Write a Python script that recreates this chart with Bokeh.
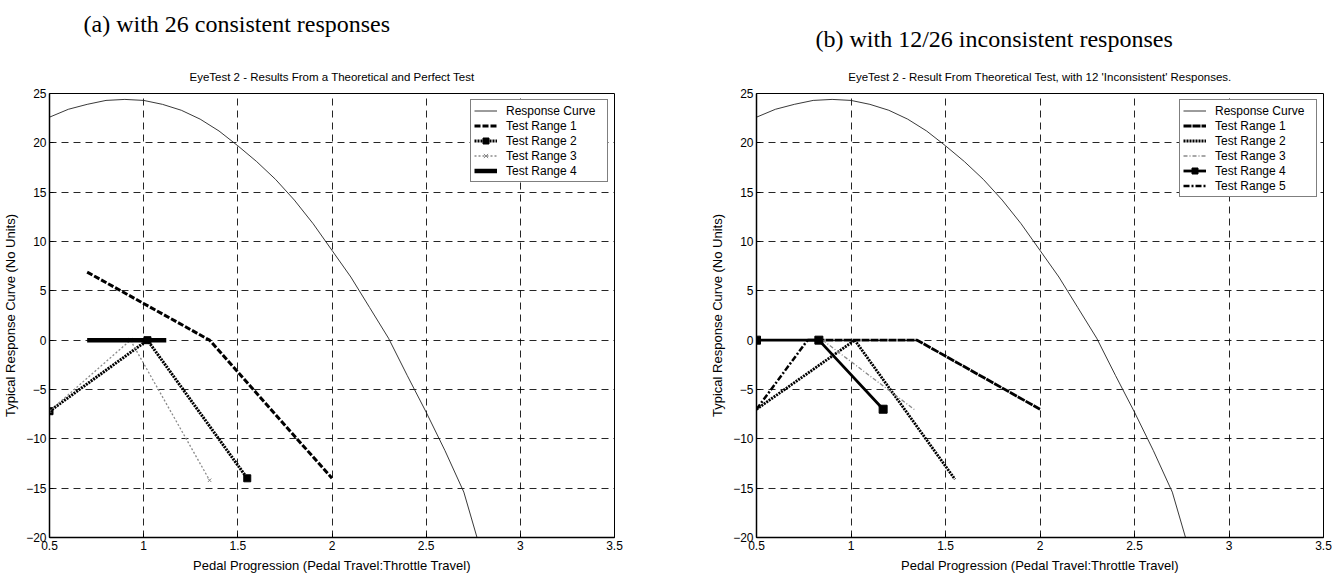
from bokeh.plotting import figure
from bokeh.layouts import row
from bokeh.models import Range1d, FixedTicker, Legend, LegendItem, Title
from bokeh.embed import file_html
from bokeh.resources import INLINE

# ---------------- data ----------------
resp_x = [0.5, 0.6, 0.7, 0.8, 0.9, 1.0, 1.1, 1.2, 1.3, 1.4, 1.5, 1.6, 1.7, 1.8,
          1.9, 2.0, 2.1, 2.2, 2.3, 2.4, 2.5, 2.6, 2.7, 2.77]
resp_y = [22.6, 23.4, 23.9, 24.3, 24.4, 24.3, 23.9, 23.3, 22.4, 21.2, 19.7, 18.1,
          16.3, 14.2, 11.8, 9.1, 6.4, 3.3, 0.2, -3.6, -7.3, -11.2, -15.4, -20.0]

# panel (a)
a1_x = [0.7, 1.35, 2.0]
a1_y = [6.9, 0.0, -14.0]
a2_x = [0.5, 1.02, 1.55]
a2_y = [-7.2, 0.0, -14.0]
a3_x = [0.5, 0.93, 1.35]
a3_y = [-7.2, 0.0, -14.2]
a4_x = [0.7, 1.12]
a4_y = [0.0, 0.0]

# panel (b)
b1_x = [0.77, 1.35, 2.0]
b1_y = [0.0, 0.0, -7.0]
b2_x = [0.5, 1.02, 1.55]
b2_y = [-7.0, 0.0, -14.1]
b3_x = [0.85, 1.34]
b3_y = [0.0, -7.1]
b4_x = [0.5, 0.83, 1.17]
b4_y = [0.0, 0.0, -7.0]
b5_x = [0.5, 0.77]
b5_y = [-7.0, 0.0]

x_ticks = [0.5, 1.0, 1.5, 2.0, 2.5, 3.0, 3.5]
x_tick_labels = ["0.5", "1", "1.5", "2", "2.5", "3", "3.5"]
y_ticks = [-20, -15, -10, -5, 0, 5, 10, 15, 20, 25]

title_a = "(a) with 26 consistent responses"
title_b = "(b) with 12/26 inconsistent responses"
sub_a = "EyeTest 2 - Results From a Theoretical and Perfect Test"
sub_b = "EyeTest 2 - Result From Theoretical Test, with 12 'Inconsistent' Responses."
xlabel = "Pedal Progression (Pedal Travel:Throttle Travel)"
ylabel = "Typical Response Curve (No Units)"

SANS = "Liberation Sans"
SERIF = "Liberation Serif"


def base_fig(bl, br, sub, big, big_offset, big_standoff, spacer):
    p = figure(width=672, height=577, output_backend="svg", toolbar_location=None,
               x_range=Range1d(0.5, 3.5), y_range=Range1d(-20, 25),
               min_border_left=bl, min_border_right=br,
               min_border_top=93, min_border_bottom=40,
               title=Title(text=big, align="left", offset=big_offset, text_font=SERIF,
                           text_font_size="24px", text_font_style="normal",
                           text_color="black", standoff=big_standoff))
    # closest to the frame: the chart's own title
    p.add_layout(Title(text=sub, align="center", text_font=SANS,
                       text_font_size="11.5px", text_font_style="normal",
                       text_color="black", standoff=21), "above")
    if spacer:
        p.add_layout(Title(text=" ", text_font_size="1px", standoff=spacer), "above")
    p.background_fill_color = "white"
    p.border_fill_color = "white"
    p.outline_line_color = "black"
    p.outline_line_width = 1
    p.xaxis.ticker = FixedTicker(ticks=x_ticks)
    p.xaxis.major_label_overrides = {t: l for t, l in zip(x_ticks, x_tick_labels)}
    p.yaxis.ticker = FixedTicker(ticks=y_ticks)
    for ax in (p.xaxis, p.yaxis):
        ax.axis_line_color = "black"
        ax.axis_line_width = 1.5
        ax.major_tick_in = 4
        ax.major_tick_out = 0
        ax.minor_tick_line_color = None
        ax.major_label_text_font = SANS
        ax.major_label_text_font_size = "12px"
        ax.major_label_text_color = "black"
        ax.major_label_standoff = 3
        ax.axis_label_text_font = SANS
        ax.axis_label_text_font_size = "13px"
        ax.axis_label_text_font_style = "normal"
        ax.axis_label_text_color = "black"
        ax.axis_label_standoff = 5
    p.xaxis.axis_label = xlabel
    p.yaxis.axis_label = ylabel
    for g in (p.xgrid, p.ygrid):
        g.grid_line_color = "black"
        g.grid_line_dash = "7 5"
        g.grid_line_width = 1
        g.grid_line_alpha = 0.85
    return p


def legend_box(p, items):
    lg = Legend(items=items, location="top_right", margin=6, padding=3, spacing=0,
                label_text_font=SANS, label_text_font_size="12px",
                label_text_color="black", label_height=15, glyph_height=15,
                glyph_width=23, label_standoff=9, label_width=98,
                border_line_color="black", border_line_width=1,
                background_fill_color="white", background_fill_alpha=1)
    p.add_layout(lg, "center")


# ---------------- panel (a) ----------------
pa = base_fig(48, 58, sub_a, title_a, 34, 16, 11)
r0 = pa.line(resp_x, resp_y, line_color="#222222", line_width=0.9)
r1 = pa.line(a1_x, a1_y, line_color="black", line_width=3, line_dash="6 2")
r2 = pa.line(a2_x, a2_y, line_color="black", line_width=3, line_dash="2 1")
r2m = pa.scatter(a2_x, a2_y, marker="square", size=7, fill_color="black", line_color="black")
r3 = pa.line(a3_x, a3_y, line_color="#8a8a8a", line_width=1.3, line_dash="2 2")
r3m = pa.scatter(a3_x, a3_y, marker="x", size=5, line_color="#8a8a8a")
r4 = pa.line(a4_x, a4_y, line_color="black", line_width=4.5)
legend_box(pa, [
    LegendItem(label="Response Curve", renderers=[r0]),
    LegendItem(label="Test Range 1", renderers=[r1]),
    LegendItem(label="Test Range 2", renderers=[r2, r2m]),
    LegendItem(label="Test Range 3", renderers=[r3, r3m]),
    LegendItem(label="Test Range 4", renderers=[r4]),
])

# ---------------- panel (b) ----------------
pb = base_fig(84, 21, sub_b, title_b, 59, 14, 0)
s0 = pb.line(resp_x, resp_y, line_color="#222222", line_width=0.9)
s1 = pb.line(b1_x, b1_y, line_color="black", line_width=2.8, line_dash="8 1")
s2 = pb.line(b2_x, b2_y, line_color="black", line_width=2.8, line_dash="2 1")
s3 = pb.line(b3_x, b3_y, line_color="#8a8a8a", line_width=1.3, line_dash="4 2 1 2")
s4 = pb.line(b4_x, b4_y, line_color="black", line_width=2.8)
s4m = pb.scatter(b4_x, b4_y, marker="square", size=8, fill_color="black", line_color="black")
s5 = pb.line(b5_x, b5_y, line_color="black", line_width=2.5, line_dash="6 2 2 2")
legend_box(pb, [
    LegendItem(label="Response Curve", renderers=[s0]),
    LegendItem(label="Test Range 1", renderers=[s1]),
    LegendItem(label="Test Range 2", renderers=[s2]),
    LegendItem(label="Test Range 3", renderers=[s3]),
    LegendItem(label="Test Range 4", renderers=[s4, s4m]),
    LegendItem(label="Test Range 5", renderers=[s5]),
])

layout = row(pa, pb)
open("out.html", "w").write(file_html(layout, INLINE))
